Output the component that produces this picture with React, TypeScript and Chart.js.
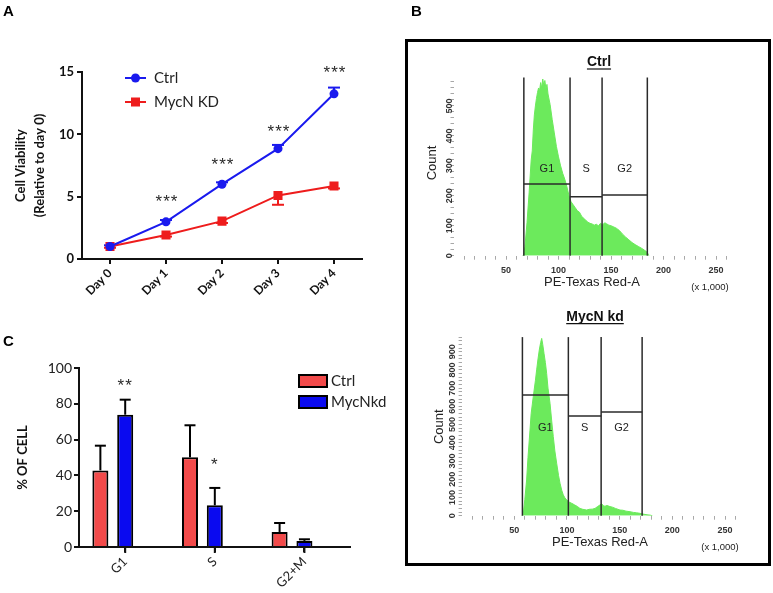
import React, { useEffect, useRef } from "react";
import { Chart, registerables } from "chart.js";

Chart.register(...registerables);

// ---------------- Panel A: cell viability ----------------
const days = ["Day 0", "Day 1", "Day 2", "Day 3", "Day 4"];
const ctrlViability = [1.0, 2.98, 6.0, 8.85, 13.25];
const ctrlViabilityErr = [0.1, 0.15, 0.15, 0.3, 0.5];
const kdViability = [1.0, 1.92, 3.04, 5.1, 5.86];
const kdViabilityErr = [0.1, 0.12, 0.15, 0.75, 0.2];
const viabilityStars = ["", "***", "***", "***", "***"];
const viabilityStarLevel = [0, 4.9, 7.8, 10.5, 15.2];
const viabilityTicks = [0, 5, 10, 15];

// ---------------- Panel C: cell-cycle phases ----------------
const phases = ["G1", "S", "G2+M"];
const ctrlPhase = [42.8, 50.1, 8.4];
const ctrlPhaseErr = [13.8, 17.9, 5.0];
const kdPhase = [73.9, 23.3, 3.4];
const kdPhaseErr = [8.4, 9.7, 0.9];
const phaseStars = ["**", "*", ""];
const phaseStarLevel = [91.8, 47.6, 0];
const phaseTicks = [0, 20, 40, 60, 80, 100];

// ---------------- Panel B: flow histograms (x in thousands) ----------------
const ctrlHistX = [66, 67, 68, 70, 72, 74, 75, 76, 77, 78, 79, 80, 81, 82, 83, 84, 85, 86, 87, 88, 89, 90, 92, 94, 96, 98, 100, 102, 104, 106, 108, 110, 112, 114, 116, 118, 120, 122, 124, 126, 128, 130, 132, 134, 136, 138, 140, 142, 144, 146, 148, 150, 152, 155, 158, 161, 164, 167, 170, 173, 176, 179, 182, 184, 185, 186];
const ctrlHistY = [0, 5, 30, 110, 210, 320, 350, 420, 470, 500, 525, 545, 560, 552, 578, 560, 590, 568, 585, 558, 572, 540, 505, 455, 410, 365, 330, 300, 275, 255, 230, 200, 180, 170, 160, 150, 145, 132, 125, 118, 112, 108, 106, 102, 105, 100, 108, 103, 110, 106, 102, 100, 97, 92, 84, 72, 62, 53, 44, 37, 31, 25, 18, 13, 8, 0];
const ctrlGates = [67, 111, 141.5, 184.6];
const ctrlMarkers = [239, 197, 203];
const ctrlLabelLevel = 289;
const ctrlCountTicks = [0, 100, 200, 300, 400, 500];

const kdHistX = [57, 58.5, 60, 61.7, 63, 64.9, 66, 68, 70, 71.2, 72.5, 73.7, 75, 76, 77, 78.2, 79.5, 80.7, 82, 83.9, 85.5, 87, 88.5, 90.2, 92, 93.4, 95, 96.5, 98, 99.7, 102, 104.5, 107, 110, 112.3, 115, 118.7, 121, 124, 126.6, 129, 131.3, 133, 134.5, 136, 138, 140.8, 143, 146, 150.3, 153, 156, 159.8, 163, 166, 169.3, 173, 176, 179, 181];
const kdHistY = [0, 8, 90, 196, 320, 470, 560, 653, 740, 800, 860, 909, 950, 973, 940, 891, 840, 781, 700, 617, 520, 434, 355, 288, 220, 178, 140, 114, 98, 86, 75, 68, 60, 50, 40, 35, 31, 35, 36, 40, 50, 59, 65, 55, 52, 56, 50, 47, 40, 31, 30, 25, 22, 18, 16, 13, 8, 5, 3, 0];
const kdGates = [57.7, 101.3, 132.4, 171.3];
const kdMarkers = [662, 547, 569];
const kdLabelLevel = 481;
const kdCountTicks = [0, 100, 200, 300, 400, 500, 600, 700, 800, 900];

const gateNames = ["G1", "S", "G2"];

const FONT_A = "Lato, 'Open Sans', sans-serif";
const FONT_B = "'Liberation Sans', Arial, sans-serif";
const STAR_FONT = `17px 'Liberation Sans', Arial, sans-serif`;

function drawText(
  ctx: CanvasRenderingContext2D,
  text: string,
  x: number,
  y: number,
  font: string,
  color: string,
  align: CanvasTextAlign = "center",
  rotate = 0,
  spacing = "0px"
) {
  ctx.save();
  ctx.translate(x, y);
  if (rotate) ctx.rotate(rotate);
  ctx.font = font;
  ctx.fillStyle = color;
  ctx.textAlign = align;
  ctx.textBaseline = "middle";
  (ctx as any).letterSpacing = spacing;
  ctx.fillText(text, 0, 0);
  ctx.restore();
}

function line(ctx: CanvasRenderingContext2D, x1: number, y1: number, x2: number, y2: number) {
  ctx.beginPath();
  ctx.moveTo(x1, y1);
  ctx.lineTo(x2, y2);
  ctx.stroke();
}

function makeViability(): any {
  const W = 390, H = 310, L = 82, R = 362, T = 72, B = 259;
  const blue = "#1a1aee";
  const red = "#ee1c1c";
  const decor = {
    id: "decorA",
    beforeDatasetsDraw(chart: any) {
      const { ctx, scales } = chart;
      const xs = scales.x, ys = scales.y;
      const series: [number[], number[], number, string][] = [
        [ctrlViability, ctrlViabilityErr, 1, blue],
        [kdViability, kdViabilityErr, -1, red],
      ];
      ctx.save();
      ctx.lineWidth = 2;
      series.forEach(([vals, errs, dir, col]) => {
        ctx.strokeStyle = col;
        vals.forEach((v, i) => {
          const px = xs.getPixelForValue(i);
          const y0 = ys.getPixelForValue(v);
          const y1 = ys.getPixelForValue(v + dir * errs[i]);
          line(ctx, px, y0, px, y1);
          line(ctx, px - 6, y1, px + 6, y1);
        });
      });
      ctx.restore();
    },
    afterDraw(chart: any) {
      const { ctx, scales } = chart;
      const xs = scales.x, ys = scales.y;
      viabilityStars.forEach((s, i) => {
        if (!s) return;
        drawText(ctx, s, xs.getPixelForValue(i) + 1, ys.getPixelForValue(viabilityStarLevel[i]) + 4, STAR_FONT, "#2a2a2a", "center", 0, "1px");
      });
      // legend
      const rows = [78, 102];
      chart.data.datasets.forEach((ds: any, i: number) => {
        const y = rows[i];
        ctx.save();
        ctx.strokeStyle = ds.borderColor;
        ctx.fillStyle = ds.borderColor;
        ctx.lineWidth = 2;
        line(ctx, 125, y, 146, y);
        if (ds.pointStyle === "rect") {
          ctx.fillRect(135.5 - 4.5, y - 4.5, 9, 9);
        } else {
          ctx.beginPath();
          ctx.arc(135.5, y, 4.5, 0, Math.PI * 2);
          ctx.fill();
        }
        ctx.restore();
        drawText(ctx, ds.label, 154, y, `15px ${FONT_A}`, "#222", "left");
      });
    },
  };
  return {
    type: "line",
    data: {
      labels: days,
      datasets: [
        { label: "Ctrl", data: ctrlViability, borderColor: blue, backgroundColor: blue, borderWidth: 2, pointStyle: "circle", pointRadius: 4.5, pointBorderWidth: 0, order: 0 },
        { label: "MycN KD", data: kdViability, borderColor: red, backgroundColor: red, borderWidth: 2, pointStyle: "rect", pointRadius: 6.4, pointBorderWidth: 0, order: 1 },
      ],
    },
    options: {
      responsive: false,
      animation: false,
      layout: { padding: { left: 0, top: T, right: W - R, bottom: 0 } },
      plugins: { legend: { display: false }, tooltip: { enabled: false } },
      scales: {
        x: {
          type: "category",
          offset: true,
          grid: { display: true, drawOnChartArea: false, drawTicks: true, tickLength: 5, lineWidth: 2, color: "#111", offset: false },
          border: { display: true, width: 2, color: "#111" },
          ticks: { font: { family: FONT_A, size: 12, weight: "bold" }, color: "#111", minRotation: 45, maxRotation: 45, padding: 2, autoSkip: false },
          afterFit: (s: any) => { s.height = H - B; },
        },
        y: {
          type: "linear",
          min: 0,
          max: 15,
          afterBuildTicks: (s: any) => { s.ticks = viabilityTicks.map((v) => ({ value: v })); },
          grid: { display: true, drawOnChartArea: false, drawTicks: true, tickLength: 5, lineWidth: 2, color: "#111" },
          border: { display: true, width: 2, color: "#111" },
          ticks: { font: { family: FONT_A, size: 13, weight: "bold" }, color: "#111", padding: 3 },
          title: { display: true, text: ["Cell Viability", "(Relative to day 0)"], font: { family: FONT_A, size: 13, weight: "bold", lineHeight: 1.5 }, color: "#111", padding: { top: 11, bottom: 0 } },
          afterFit: (s: any) => { s.width = L; },
        },
      },
    },
    plugins: [decor],
  };
}

function makePhase(): any {
  const W = 390, H = 273, L = 79, R = 350, T = 48, B = 227;
  const cat = 0.554;
  const bar = 0.645;
  const red = "#f24a4a";
  const blue = "#0a0af0";
  const decor = {
    id: "decorC",
    afterDatasetsDraw(chart: any) {
      const { ctx, scales, chartArea } = chart;
      const ys = scales.y, xs = scales.x;
      const errs = [ctrlPhaseErr, kdPhaseErr];
      const vals = [ctrlPhase, kdPhase];
      ctx.save();
      ctx.strokeStyle = "#000";
      ctx.lineWidth = 2;
      [0, 1].forEach((d) => {
        const meta = chart.getDatasetMeta(d);
        meta.data.forEach((el: any, i: number) => {
          const y0 = ys.getPixelForValue(vals[d][i]);
          const y1 = ys.getPixelForValue(vals[d][i] + errs[d][i]);
          line(ctx, el.x, y0, el.x, y1);
          line(ctx, el.x - 5.5, y1, el.x + 5.5, y1);
        });
      });
      // category tick marks below the x axis
      ctx.strokeStyle = "#111";
      xs.ticks.forEach((_t: any, i: number) => {
        const px = xs.getPixelForTick(i);
        line(ctx, px, chartArea.bottom, px, chartArea.bottom + 6);
      });
      ctx.restore();
      const meta1 = chart.getDatasetMeta(1);
      phaseStars.forEach((s, i) => {
        if (!s) return;
        drawText(ctx, s, meta1.data[i].x, ys.getPixelForValue(phaseStarLevel[i]) + 4, STAR_FONT, "#2a2a2a", "center", 0, "1px");
      });
    },
    afterDraw(chart: any) {
      const { ctx } = chart;
      const rows = [61, 82];
      chart.data.datasets.forEach((ds: any, i: number) => {
        const y = rows[i];
        ctx.save();
        ctx.fillStyle = ds.backgroundColor;
        ctx.fillRect(299, y - 6, 28, 12);
        ctx.strokeStyle = "#000";
        ctx.lineWidth = 2;
        ctx.strokeRect(299, y - 6, 28, 12);
        ctx.restore();
        drawText(ctx, ds.label, 331, y, `15px ${FONT_A}`, "#222", "left");
      });
    },
  };
  const mk = (label: string, vals: number[], col: string) => ({
    label,
    data: vals.map((v, i) => ({ x: i, y: v })),
    backgroundColor: col,
    borderColor: "#000",
    borderWidth: 2,
    categoryPercentage: cat,
    barPercentage: bar,
  });
  return {
    type: "bar",
    data: { datasets: [mk("Ctrl", ctrlPhase, red), mk("MycNkd", kdPhase, blue)] },
    options: {
      responsive: false,
      animation: false,
      layout: { padding: { left: 0, top: T, right: W - R, bottom: 0 } },
      plugins: { legend: { display: false }, tooltip: { enabled: false } },
      scales: {
        x: {
          type: "linear",
          min: -0.377,
          max: 2.647,
          offset: false,
          afterBuildTicks: (s: any) => { s.ticks = phases.map((_, i) => ({ value: i + cat / 4 })); },
          grid: { display: true, drawOnChartArea: false, drawTicks: true, tickLength: 5, lineWidth: 2, color: "#111", offset: false },
          border: { display: true, width: 2, color: "#111" },
          ticks: { callback: (_v: any, i: number) => phases[i], font: { family: FONT_A, size: 13 }, color: "#222", minRotation: 45, maxRotation: 45, padding: 2, autoSkip: false },
          afterFit: (s: any) => { s.height = H - B; },
        },
        y: {
          type: "linear",
          min: 0,
          max: 100,
          afterBuildTicks: (s: any) => { s.ticks = phaseTicks.map((v) => ({ value: v })); },
          grid: { display: true, drawOnChartArea: false, drawTicks: true, tickLength: 5, lineWidth: 2, color: "#111" },
          border: { display: true, width: 2, color: "#111" },
          ticks: { font: { family: FONT_A, size: 14 }, color: "#222", padding: 2 },
          title: { display: true, text: "% OF CELL", font: { family: FONT_A, size: 13, weight: "bold" }, color: "#111", padding: { top: 15, bottom: 0 } },
          afterFit: (s: any) => { s.width = L; },
        },
      },
    },
    plugins: [decor],
  };
}

interface HistSpec {
  W: number; H: number; L: number; R: number; T: number; B: number;
  xs: number[]; ys: number[]; yMax: number;
  gates: number[]; markers: number[]; labelLevel: number; countTicks: number[];
  title: string; titleX: number; titleY: number;
  countX: number; countY: number; yLabelX: number;
  axisTitleX: number; axisTitleY: number; unitX: number; unitY: number;
}

function makeHist(sp: HistSpec): any {
  const green = "rgb(108,234,92)";
  const decor = {
    id: "decorHist",
    afterDatasetsDraw(chart: any) {
      const { ctx, chartArea, scales } = chart;
      const x = scales.x, y = scales.y;
      ctx.save();
      ctx.strokeStyle = "#2a2a2a";
      ctx.lineWidth = 1.5;
      sp.gates.forEach((g) => {
        const px = x.getPixelForValue(g);
        line(ctx, px, chartArea.top, px, chartArea.bottom);
      });
      sp.markers.forEach((m, i) => {
        const py = y.getPixelForValue(m);
        line(ctx, x.getPixelForValue(sp.gates[i]), py, x.getPixelForValue(sp.gates[i + 1]), py);
      });
      ctx.restore();
      gateNames.forEach((n, i) => {
        const cx = (x.getPixelForValue(sp.gates[i]) + x.getPixelForValue(sp.gates[i + 1])) / 2;
        drawText(ctx, n, cx, y.getPixelForValue(sp.labelLevel), `11px ${FONT_B}`, "#222");
      });
    },
    afterDraw(chart: any) {
      const { ctx, scales } = chart;
      const y = scales.y;
      sp.countTicks.forEach((v) => {
        drawText(ctx, String(v), sp.yLabelX, y.getPixelForValue(v), `bold 9px ${FONT_B}`, "#333", "center", -Math.PI / 2);
      });
      drawText(ctx, "Count", sp.countX, sp.countY, `13px ${FONT_B}`, "#222", "center", -Math.PI / 2);
      drawText(ctx, "PE-Texas Red-A", sp.axisTitleX, sp.axisTitleY, `13px ${FONT_B}`, "#222");
      drawText(ctx, "(x 1,000)", sp.unitX, sp.unitY, `9.5px ${FONT_B}`, "#222");
      ctx.save();
      ctx.font = `bold 14px ${FONT_B}`;
      const w = ctx.measureText(sp.title).width;
      ctx.restore();
      drawText(ctx, sp.title, sp.titleX, sp.titleY, `bold 14px ${FONT_B}`, "#111");
      ctx.save();
      ctx.strokeStyle = "#111";
      ctx.lineWidth = 1.2;
      line(ctx, sp.titleX - w / 2, sp.titleY + 7, sp.titleX + w / 2, sp.titleY + 7);
      ctx.restore();
    },
  };
  const xTickVals: number[] = [];
  for (let v = 10; v <= 260; v += 10) xTickVals.push(v);
  const yTickVals: number[] = [];
  for (let v = 0; v <= sp.yMax; v += 20) yTickVals.push(v);
  return {
    type: "line",
    data: {
      datasets: [
        {
          data: sp.xs.map((xv, i) => ({ x: xv, y: sp.ys[i] })),
          fill: "origin",
          backgroundColor: green,
          borderColor: green,
          borderWidth: 1,
          pointRadius: 0,
          tension: 0,
        },
      ],
    },
    options: {
      responsive: false,
      animation: false,
      layout: { padding: { left: sp.L - 3, top: sp.T, right: sp.W - sp.R, bottom: 0 } },
      plugins: { legend: { display: false }, tooltip: { enabled: false } },
      scales: {
        x: {
          type: "linear",
          min: 0,
          max: 260,
          afterBuildTicks: (s: any) => { s.ticks = xTickVals.map((v) => ({ value: v })); },
          grid: { display: true, drawOnChartArea: false, drawTicks: true, tickLength: 4, lineWidth: 1, color: "#a8a8a8" },
          border: { display: false },
          ticks: {
            autoSkip: false,
            minRotation: 0,
            maxRotation: 0,
            padding: 5,
            font: { family: FONT_B, size: 9, weight: "bold" },
            color: "#333",
            callback: (v: any) => (v % 50 === 0 ? String(v) : ""),
          },
          afterFit: (s: any) => { s.height = sp.H - sp.B; },
        },
        y: {
          type: "linear",
          min: 0,
          max: sp.yMax,
          afterBuildTicks: (s: any) => { s.ticks = yTickVals.map((v) => ({ value: v })); },
          grid: { display: true, drawOnChartArea: false, drawTicks: true, tickLength: 3, lineWidth: 1, color: "#a8a8a8" },
          border: { display: false },
          ticks: { display: false, autoSkip: false },
          afterFit: (s: any) => { s.width = 3; },
        },
      },
    },
    plugins: [decor],
  };
}

function ChartCanvas(props: { left: number; top: number; width: number; height: number; make: () => any }) {
  const ref = useRef<HTMLCanvasElement>(null);
  useEffect(() => {
    const chart = new Chart(ref.current as HTMLCanvasElement, props.make());
    return () => chart.destroy();
  }, []);
  return (
    <div style={{ position: "absolute", left: props.left, top: props.top, width: props.width, height: props.height }}>
      <canvas ref={ref} width={props.width} height={props.height} style={{ width: props.width, height: props.height, display: "block" }} />
    </div>
  );
}

const letterStyle = (left: number, top: number): React.CSSProperties => ({
  position: "absolute",
  left,
  top,
  font: `bold 15px ${FONT_B}`,
  lineHeight: "15px",
  color: "#000",
});

export default function App() {
  return (
    <div style={{ position: "fixed", left: 0, top: 0, width: 773, height: 593, background: "#fff", overflow: "hidden" }}>
      <ChartCanvas left={0} top={0} width={390} height={310} make={makeViability} />
      <ChartCanvas left={0} top={320} width={390} height={273} make={makePhase} />
      <div style={{ position: "absolute", left: 405, top: 38.5, width: 366, height: 527, border: "3px solid #000", boxSizing: "border-box" }} />
      <ChartCanvas
        left={410}
        top={45}
        width={355}
        height={250}
        make={() =>
          makeHist({
            W: 355, H: 250, L: 43.5, R: 316.5, T: 32.5, B: 210.7,
            xs: ctrlHistX, ys: ctrlHistY, yMax: 595,
            gates: ctrlGates, markers: ctrlMarkers, labelLevel: ctrlLabelLevel, countTicks: ctrlCountTicks,
            title: "Ctrl", titleX: 189, titleY: 17,
            countX: 22, countY: 118, yLabelX: 39.3,
            axisTitleX: 182, axisTitleY: 237, unitX: 300, unitY: 242.7,
          })
        }
      />
      <ChartCanvas
        left={410}
        top={300}
        width={355}
        height={262}
        make={() =>
          makeHist({
            W: 355, H: 262, L: 51.6, R: 325.6, T: 37.1, B: 215.7,
            xs: kdHistX, ys: kdHistY, yMax: 980,
            gates: kdGates, markers: kdMarkers, labelLevel: kdLabelLevel, countTicks: kdCountTicks,
            title: "MycN kd", titleX: 185, titleY: 16.7,
            countX: 29, countY: 126.7, yLabelX: 43,
            axisTitleX: 190, axisTitleY: 242.3, unitX: 310, unitY: 247.3,
          })
        }
      />
      <div style={letterStyle(3, 3)}>A</div>
      <div style={letterStyle(411, 3)}>B</div>
      <div style={letterStyle(3, 333)}>C</div>
    </div>
  );
}
